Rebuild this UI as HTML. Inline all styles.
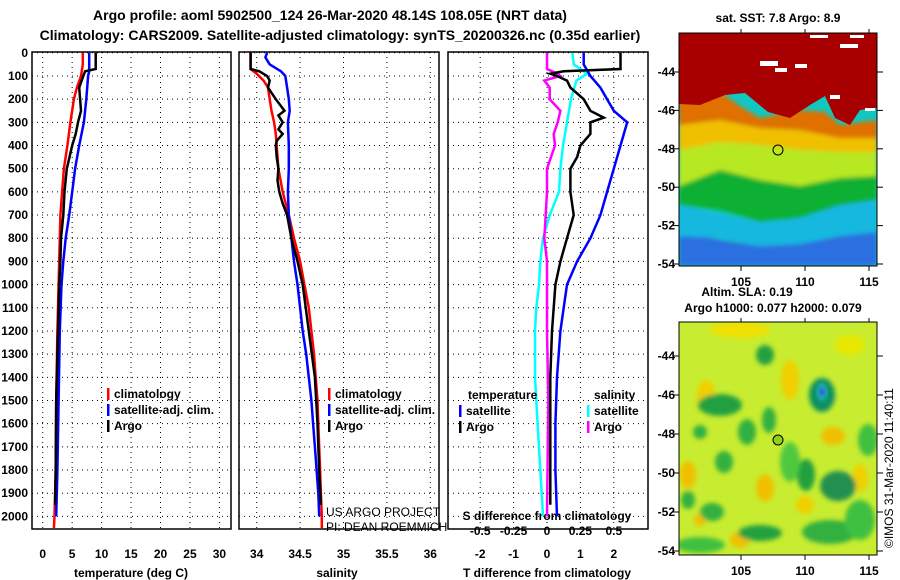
<!DOCTYPE html>
<html><head><meta charset="utf-8"><style>
body{margin:0;background:#fff;}
svg{display:block;font-family:"Liberation Sans",sans-serif;font-weight:bold;}
</style></head><body>
<svg id="c" width="900" height="580" xmlns="http://www.w3.org/2000/svg">
<defs>
<filter id="bl" x="-20%" y="-20%" width="140%" height="140%"><feGaussianBlur stdDeviation="2.5"/></filter>
<filter id="bl2" x="-20%" y="-20%" width="140%" height="140%"><feGaussianBlur stdDeviation="2"/></filter>
<clipPath id="cm1"><rect x="679" y="33" width="198" height="233"/></clipPath>
<clipPath id="cm2"><rect x="679" y="322" width="198" height="233"/></clipPath>
</defs>
<text x="330" y="20" text-anchor="middle" font-size="14">Argo profile: aoml 5902500_124 26-Mar-2020 48.14S 108.05E (NRT data)</text>
<text x="340" y="40" text-anchor="middle" font-size="14">Climatology: CARS2009. Satellite-adjusted climatology: synTS_20200326.nc (0.35d earlier)</text>
</svg>
<script>
const NS="http://www.w3.org/2000/svg";
const svg=document.getElementById('c');
// depth axis
const depthTicks=[0,100,200,300,400,500,600,700,800,900,1000,1100,1200,1300,1400,1500,1600,1700,1800,1900,2000];
// temperature panel data
const tClimD=[0,50,100,150,200,300,400,500,600,700,800,900,1000,1200,1500,1800,2000,2050];
const tClimV=[6.8,6.8,6.5,5.8,5.3,4.7,4.2,3.6,3.3,3.0,2.9,2.8,2.7,2.5,2.3,2.2,2.0,1.9];
const tSatD=[0,80,100,200,300,400,500,600,700,800,900,1000,1200,1500,1800,2000];
const tSatV=[7.9,7.9,7.7,7.4,7.0,6.2,5.5,5.0,4.5,3.9,3.5,3.2,2.9,2.7,2.5,2.3];
const tArgoD=[0,70,80,100,150,250,270,300,350,400,500,600,700,800,900,1000,1200,1500,1800,1950];
const tArgoV=[9.0,9.0,7.2,6.9,6.2,6.5,6.3,6.0,5.6,5.0,4.1,3.7,3.5,3.1,3.0,2.8,2.6,2.3,2.2,2.1];
const tTicks=[0,5,10,15,20,25,30];
// salinity panel data
const sClimD=[0,70,90,120,150,200,250,300,350,400,500,600,700,800,900,1000,1100,1200,1300,1400,1500,1600,1700,1800,1900,2000,2050];
const sClimV=[33.93,33.93,34.0,34.08,34.13,34.15,34.17,34.2,34.22,34.23,34.25,34.3,34.37,34.43,34.5,34.55,34.6,34.63,34.66,34.68,34.7,34.71,34.72,34.73,34.74,34.75,34.75];
const sSatD=[0,20,50,80,100,150,200,250,300,400,500,600,700,800,900,1000,1100,1200,1300,1400,1500,1600,1700,1800,1900,2000];
const sSatV=[34.12,34.1,34.15,34.28,34.33,34.35,34.37,34.38,34.36,34.37,34.37,34.36,34.37,34.4,34.43,34.47,34.5,34.53,34.57,34.6,34.63,34.65,34.67,34.69,34.71,34.72];
const sArgoD=[0,70,80,100,120,150,200,250,270,300,330,350,380,400,450,500,550,600,650,700,800,900,1000,1200,1400,1600,1800,1950];
const sArgoV=[33.93,33.93,34.03,34.12,34.15,34.13,34.22,34.32,34.25,34.3,34.25,34.3,34.23,34.22,34.23,34.25,34.24,34.26,34.3,34.35,34.4,34.47,34.53,34.6,34.67,34.7,34.72,34.74];
const sTicks=[34,34.5,35,35.5,36];
// difference panel data
const dTSatD=[0,50,100,150,200,250,300,400,500,600,700,800,900,1000,1100,1200,1400,1600,1800,2000];
const dTSatV=[1.1,1.1,1.3,1.6,1.8,2.0,2.4,2.2,2.0,1.8,1.6,1.3,0.9,0.6,0.5,0.4,0.3,0.25,0.25,0.3];
const dTArgoD=[0,70,80,90,100,120,150,200,250,280,300,350,400,450,500,600,700,800,900,1000,1100,1200,1400,1600,1800,1950];
const dTArgoV=[2.2,2.2,0.5,0.1,0.3,0.6,0.7,1.1,1.3,1.7,1.3,1.3,1.0,0.9,0.7,0.7,0.8,0.6,0.4,0.25,0.2,0.15,0.1,0.1,0.1,0.1];
const dSSatD=[0,50,90,120,200,300,400,500,600,700,800,900,1000,1100,1200,1400,1600,1800,2000];
const dSSatV=[0.19,0.2,0.3,0.22,0.18,0.15,0.12,0.1,0.09,0.02,-0.03,-0.05,-0.06,-0.08,-0.09,-0.09,-0.07,-0.05,-0.03];
const dSArgoD=[0,70,90,100,120,150,200,250,300,350,400,500,600,700,800,900,1000,1200,1500,2000];
const dSArgoV=[0,0,0.08,0.1,-0.02,0.02,0.02,0.1,0.08,0.05,0.06,0,0,-0.01,-0.02,0,0,0,0.01,0];
const dTTicks=[-2,-1,0,1,2];
const dSTicks=[-0.5,-0.25,0,0.25,0.5];

const yD=d=>52.8+d*0.2318;
const xT=v=>42.7+v*5.89;
const xS=v=>256.7+(v-34)*86.8;
const xDT=v=>547+v*33.4;
const xDS=v=>547+v*133.6;
const TOP=52,BOT=529;

function el(tag,attrs,parent){const e=document.createElementNS(NS,tag);for(const k in attrs)e.setAttribute(k,attrs[k]);(parent||svg).appendChild(e);return e;}
function txt(x,y,s,size,anchor,parent){const t=el('text',{x:x,y:y,'font-size':size,'text-anchor':anchor||'start'},parent);t.textContent=s;return t;}

function panel(name,x0,x1,vTicks,xf){
  const g=el('g',{});
  
  
  depthTicks.forEach(d=>{el('line',{x1:x0,x2:x1,y1:yD(d),y2:yD(d),stroke:'#000','stroke-dasharray':'1 4','stroke-width':1},g);});
  vTicks.forEach(v=>{el('line',{x1:xf(v),x2:xf(v),y1:TOP,y2:BOT,stroke:'#000','stroke-dasharray':'1 4','stroke-width':1},g);});
  el('rect',{x:x0,y:TOP,width:x1-x0,height:BOT-TOP,fill:'none',stroke:'#000','stroke-width':1.5},g);
  return g;
}
function line(name,D,V,xf,color,g){
  const p=D.map((d,i)=>xf(V[i]).toFixed(1)+','+yD(d).toFixed(1)).join(' ');
  const l=el('polyline',{points:p,fill:'none',stroke:color,'stroke-width':2.5,'stroke-linejoin':'miter'},g);
  
  
}
function legend(g,x,y,items){
  items.forEach((it,i)=>{
    el('rect',{x:x,y:y+i*16-10,width:2.5,height:12,fill:it[1]},g);
    const t=txt(x+7,y+i*16,it[0],12,'start',g);
    
    
  });
}
// Panel 1
const g1=panel('temperature-panel',32,231,tTicks,xT);
depthTicks.forEach(d=>{const t=txt(28,yD(d)+4,String(d),12,'end',g1);});
tTicks.forEach(v=>txt(xT(v),558,String(v),12,'middle',g1));
txt(131,577,'temperature (deg C)',12,'middle',g1);
line('temp-climatology',tClimD,tClimV,xT,'#ff0000',g1);
line('temp-satellite',tSatD,tSatV,xT,'#0000ff',g1);
line('temp-argo',tArgoD,tArgoV,xT,'#000',g1);
legend(g1,107,398,[['climatology','#ff0000'],['satellite-adj. clim.','#0000ff'],['Argo','#000']]);
// Panel 2
const g2=panel('salinity-panel',239,439,sTicks,xS);
sTicks.forEach(v=>txt(xS(v),558,String(v),12,'middle',g2));
txt(337,577,'salinity',12,'middle',g2);
line('sal-climatology',sClimD,sClimV,xS,'#ff0000',g2);
line('sal-satellite',sSatD,sSatV,xS,'#0000ff',g2);
line('sal-argo',sArgoD,sArgoV,xS,'#000',g2);
legend(g2,328,398,[['climatology','#ff0000'],['satellite-adj. clim.','#0000ff'],['Argo','#000']]);
const c1=txt(326,516,'US ARGO PROJECT',12,'start',g2);c1.setAttribute('font-weight','normal');
const c2=txt(326,531,'PI: DEAN ROEMMICH',12,'start',g2);c2.setAttribute('font-weight','normal');
// Panel 3
const g3=panel('difference-panel',448,648,dTTicks,xDT);
dTTicks.forEach(v=>txt(xDT(v),558,String(v),12,'middle',g3));
txt(547,577,'T difference from climatology',12,'middle',g3);
txt(547,520,'S difference from climatology',12,'middle',g3);
dSTicks.forEach(v=>txt(xDS(v),535,String(v),12,'middle',g3));
line('dS-satellite',dSSatD,dSSatV,xDS,'#00ffff',g3);
line('dS-argo',dSArgoD,dSArgoV,xDS,'#ff00ff',g3);
line('dT-satellite',dTSatD,dTSatV,xDT,'#0000ff',g3);
line('dT-argo',dTArgoD,dTArgoV,xDT,'#000',g3);
txt(468,399,'temperature',12,'start',g3);
legend(g3,459,415,[['satellite','#0000ff'],['Argo','#000']]);
txt(594,399,'salinity',12,'start',g3);
legend(g3,587,415,[['satellite','#00ffff'],['Argo','#ff00ff']]);

// Maps
const latTicks=[-44,-46,-48,-50,-52,-54];
const lonTicks=[105,110,115];
const lonX=v=>741+(v-105)*12.8;
function mapAxes(g,y0,y1,latY){
  el('rect',{x:679,y:y0,width:198,height:y1-y0,fill:'none',stroke:'#000','stroke-width':1},g);
  latTicks.forEach(l=>{const y=latY(l);el('line',{x1:877,x2:883,y1:y,y2:y,stroke:'#000'},g);el('line',{x1:673,x2:679,y1:y,y2:y,stroke:'#000'},g);txt(675,y+4,String(l),12,'end',g);});
  lonTicks.forEach(v=>{el('line',{x1:lonX(v),x2:lonX(v),y1:y1,y2:y1+5,stroke:'#000'},g);el('line',{x1:lonX(v),x2:lonX(v),y1:y0,y2:y0-4,stroke:'#000'},g);txt(lonX(v),y1+20,String(v),12,'middle',g);});
}
const m1=el('g',{});


const m1c=el('g',{'clip-path':'url(#cm1)'},m1);
el('rect',{x:679,y:33,width:198,height:233,fill:'#10c8c0'},m1c);
const mb=el('g',{filter:'url(#bl2)'},m1c);
el('path',{d:'M679,230 L720,240 L760,246 L800,242 L840,232 L877,228 L877,266 L679,266Z',fill:'#2a6fe0'},mb);
el('path',{d:'M679,205 L720,215 L760,222 L800,218 L840,205 L877,200 L877,232 L840,236 L800,244 L760,246 L720,238 L679,236Z',fill:'#18b8e0'},mb);
el('path',{d:'M679,185 L700,175 L720,170 L760,178 L800,185 L840,178 L877,175 L877,200 L840,205 L800,218 L760,222 L720,210 L679,205Z',fill:'#10b030'},mb);
el('path',{d:'M679,150 L720,142 L760,145 L800,150 L840,152 L877,150 L877,176 L840,178 L800,186 L760,180 L720,170 L679,186Z',fill:'#b8e820'},mb);
el('path',{d:'M679,125 L720,120 L760,128 L800,130 L840,138 L877,138 L877,152 L840,152 L800,150 L760,145 L720,142 L679,150Z',fill:'#f0c000'},mb);
el('path',{d:'M679,100 L720,92 L740,106 L760,118 L800,110 L825,112 L840,125 L877,120 L877,138 L840,138 L800,130 L760,128 L720,120 L679,125Z',fill:'#e07000'},mb);
el('path',{d:'M679,33 L877,33 L877,108 L860,110 L850,125 L835,118 L825,96 L810,105 L790,118 L768,112 L745,93 L725,95 L700,105 L679,104Z',fill:'#a80000'},m1c);
[[760,61,18,5],[775,68,12,4],[795,64,12,4],[830,95,10,4],[865,108,10,3],[840,44,18,4],[810,35,18,3],[850,35,14,3]].forEach(r=>el('rect',{x:r[0],y:r[1],width:r[2],height:r[3],fill:'#fff'},m1c));
el('circle',{cx:778,cy:150,r:5,fill:'none',stroke:'#000','stroke-width':1},m1);
mapAxes(m1,33,266,l=>72+(-44-l)*19.2);
txt(778,22,'sat. SST: 7.8 Argo: 8.9',12,'middle',m1);

const m2=el('g',{});


const m2c=el('g',{'clip-path':'url(#cm2)'},m2);
el('rect',{x:679,y:322,width:198,height:233,fill:'#c8ec30'},m2c);
const bb=el('g',{filter:'url(#bl)'},m2c);
[[706,396,9,16,'#f0d000'],[790,380,9,20,'#f0d000'],[688,475,8,14,'#f0c000'],[765,488,9,14,'#f0c000'],[833,436,12,9,'#f0c000'],[860,478,8,14,'#f0d000'],[740,540,10,8,'#f0c000'],[805,505,9,9,'#f0d000'],[700,520,6,6,'#f0c000'],[740,330,30,8,'#f0e000'],[850,345,15,10,'#e8e800']].forEach(b=>el('ellipse',{cx:b[0],cy:b[1],rx:b[2],ry:b[3],fill:b[4]},bb));
[[720,405,22,11,'#20a040'],[765,355,9,10,'#20a040'],[769,420,7,13,'#30b040'],[747,432,9,13,'#30b040'],[822,395,13,17,'#109060'],[700,432,7,7,'#30b040'],[724,462,9,11,'#30b040'],[806,475,9,16,'#20a040'],[838,486,18,15,'#209050'],[712,512,12,9,'#30b040'],[760,533,22,8,'#20a040'],[830,532,28,12,'#30b040'],[688,500,7,9,'#30b040'],[868,440,10,16,'#40c040'],[790,462,10,20,'#50c840'],[700,545,25,8,'#40c040'],[860,520,15,20,'#40c040']].forEach(b=>el('ellipse',{cx:b[0],cy:b[1],rx:b[2],ry:b[3],fill:b[4]},bb));
el('ellipse',{cx:822,cy:392,rx:5,ry:9,fill:'#20b0c0',filter:'url(#bl2)'},m2c);
el('ellipse',{cx:822,cy:392,rx:2.5,ry:4,fill:'#2050e0',filter:'url(#bl2)'},m2c);
el('circle',{cx:778,cy:440,r:5,fill:'#90d020',stroke:'#000','stroke-width':1},m2);
mapAxes(m2,322,555,l=>356+(-44-l)*19.5);
txt(747,296,'Altim. SLA: 0.19',12,'middle',m2);
txt(773,312,'Argo h1000: 0.077 h2000: 0.079',12,'middle',m2);
const st=el('text',{x:0,y:0,'font-size':12,'font-weight':'normal',transform:'translate(893,548) rotate(-90)'});
st.textContent='©IMOS 31-Mar-2020 11:40:11';


</script>
</body></html>
